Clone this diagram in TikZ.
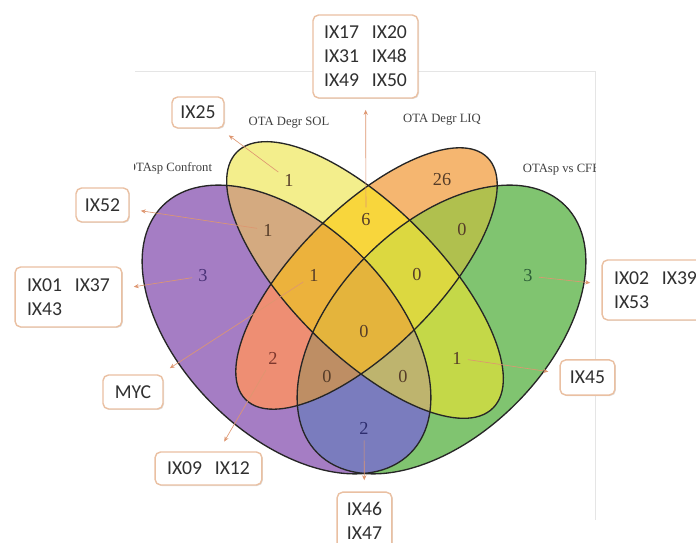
\documentclass[tikz,border=0pt]{standalone}
\usepackage{fontspec}
\setmainfont{Liberation Serif}
\newfontfamily\idfont{Carlito}
\usetikzlibrary{arrows.meta,shadows}

\definecolor{cP}{RGB}{165,125,196}
\definecolor{cY}{RGB}{243,238,140}
\definecolor{cO}{RGB}{245,182,112}
\definecolor{cG}{RGB}{128,196,112}
\definecolor{cPY}{RGB}{212,170,128}
\definecolor{cPO}{RGB}{238,142,115}
\definecolor{cPG}{RGB}{122,124,190}
\definecolor{cYO}{RGB}{248,214,60}
\definecolor{cYG}{RGB}{196,216,72}
\definecolor{cOG}{RGB}{176,192,78}
\definecolor{cPYO}{RGB}{236,178,60}
\definecolor{cPYG}{RGB}{190,180,110}
\definecolor{cPOG}{RGB}{190,142,100}
\definecolor{cYOG}{RGB}{220,216,64}
\definecolor{cPYOG}{RGB}{228,180,60}
\definecolor{numtext}{RGB}{85,60,40}
\definecolor{numP}{RGB}{75,50,120}
\definecolor{numG}{RGB}{45,95,55}
\definecolor{numPG}{RGB}{45,45,110}
\definecolor{numPO}{RGB}{125,55,45}
\definecolor{boxline}{RGB}{234,192,162}
\definecolor{idtext}{RGB}{48,48,48}
\definecolor{pointer}{RGB}{222,150,112}

% the four sets (pixel grid, y upwards)
\newcommand{\setP}{[rotate around={-45:(286.5,213.5)}] (286.5,213.5) ellipse (4.375cm and 2.625cm)}
\newcommand{\setG}{[rotate around={45:(441.5,213.5)}] (441.5,213.5) ellipse (4.375cm and 2.625cm)}
\newcommand{\setY}{[rotate around={-45:(365,263)}] (365,263) ellipse (4.525cm and 1.85cm)}
\newcommand{\setO}{[rotate around={45:(366.5,264.5)}] (366.5,264.5) ellipse (4.275cm and 1.75cm)}
\newcommand{\gap}{\hspace{9pt}}

\tikzset{
  rim/.style={draw=black!85, line width=0.95pt},
  setlabel/.style={font=\fontsize{9}{11}\selectfont, text=black!75},
  tally/.style={font=\fontsize{13}{15}\selectfont, text=numtext},
  idbox/.style={draw=boxline, line width=1pt, rounded corners=4pt, fill=white,
    font=\idfont\fontsize{14}{17}\selectfont, text=idtext, align=left, inner sep=0pt,
    drop shadow={shadow xshift=0.7pt, shadow yshift=-0.7pt, fill=black, opacity=0.12}},
  leader/.style={draw=pointer, line width=0.45pt, -{Stealth[length=3.5pt,width=3pt]},
    shorten >=8pt, shorten <=1pt},
  frameline/.style={draw=black!10, line width=0.4pt}
}

\begin{document}
\begin{tikzpicture}[x=0.025cm,y=0.025cm]
  \useasboundingbox (0,0) rectangle (696,543);
  \clip (0,0) rectangle (696,543);
  \fill[white] (0,0) rectangle (696,543);
  \draw[frameline] (135,472) -- (595,472) -- (595,23);

  % one set
  \fill[cP] \setP;
  \fill[cG] \setG;
  \fill[cY] \setY;
  \fill[cO] \setO;
  % two sets
  \begin{scope} \clip \setP; \fill[cPY] \setY; \end{scope}
  \begin{scope} \clip \setP; \fill[cPO] \setO; \end{scope}
  \begin{scope} \clip \setP; \fill[cPG] \setG; \end{scope}
  \begin{scope} \clip \setY; \fill[cYO] \setO; \end{scope}
  \begin{scope} \clip \setY; \fill[cYG] \setG; \end{scope}
  \begin{scope} \clip \setO; \fill[cOG] \setG; \end{scope}
  % three sets
  \begin{scope} \clip \setP; \clip \setY; \fill[cPYO] \setO; \end{scope}
  \begin{scope} \clip \setP; \clip \setY; \fill[cPYG] \setG; \end{scope}
  \begin{scope} \clip \setP; \clip \setO; \fill[cPOG] \setG; \end{scope}
  \begin{scope} \clip \setY; \clip \setO; \fill[cYOG] \setG; \end{scope}
  % all four
  \begin{scope} \clip \setP; \clip \setY; \clip \setO; \fill[cPYOG] \setG; \end{scope}

  \draw[rim] \setP;
  \draw[rim] \setG;
  \draw[rim] \setY;
  \draw[rim] \setO;

  % set names, cut at the plot frame
  \begin{scope}
    \clip (134.5,0) rectangle (595,543);
    \node[setlabel] (lblY) at (289,420) {OTA Degr SOL};
    \node[setlabel] (lblO) at (442,423) {OTA Degr LIQ};
    \node[setlabel, anchor=east] (lblP) at (217,375) {OTAsp Confront};
    \node[setlabel, anchor=west] (lblG) at (518,373) {OTAsp vs CFE};
  \end{scope}

  % counts
  \node[tally] (nY) at (289,363) {1};
  \node[tally] (nO) at (442,363) {26};
  \node[tally] (nPY) at (268,313) {1};
  \node[tally] (nYO) at (366,323) {6};
  \node[tally] (nOG) at (462,313) {0};
  \node[tally, text=numP] (nP) at (203,267) {3};
  \node[tally] (nPYO) at (314,268) {1};
  \node[tally] (nYOG) at (417,268) {0};
  \node[tally, text=numG] (nG) at (528,267) {3};
  \node[tally] (nPYOG) at (364,211) {0};
  \node[tally, text=numPO] (nPO) at (273,185) {2};
  \node[tally] (nYG) at (457,185) {1};
  \node[tally] (nPOG) at (327,166) {0};
  \node[tally] (nPYG) at (403,166) {0};
  \node[tally, text=numPG] (nPG) at (364,115) {2};

  % member boxes
  \node[idbox, minimum width=74.7pt, minimum height=59pt] (boxYO) at (365.5,486.5) {IX17\gap IX20\\IX31\gap IX48\\IX49\gap IX50};
  \node[idbox, minimum width=37pt, minimum height=22pt] (boxY) at (198,430.5) {IX25};
  \node[idbox, minimum width=37.7pt, minimum height=24.2pt] (boxPY) at (102.5,338) {IX52};
  \node[idbox, minimum width=76pt, minimum height=42.7pt] (boxP) at (68.5,246) {IX01\gap IX37\\IX43};
  \node[idbox, minimum width=42.7pt, minimum height=24.2pt] (boxPYO) at (133,151) {MYC};
  \node[idbox, minimum width=76pt, minimum height=23.5pt] (boxPO) at (208.5,74.5) {IX09\gap IX12};
  \node[idbox, minimum width=39pt, minimum height=41pt] (boxPG) at (364.5,22) {IX46\\IX47};
  \node[idbox, minimum width=76pt, minimum height=42.7pt] (boxG) at (655.5,253) {IX02\gap IX39\\IX53};
  \node[idbox, minimum width=39pt, minimum height=25pt] (boxYG) at (587.5,165.5) {IX45};

  \draw[leader] (nYO) -- (boxYO);
  \draw[leader] (nY) -- (boxY);
  \draw[leader] (nPY) -- (boxPY);
  \draw[leader] (nP) -- (boxP);
  \draw[leader] (nPYO) -- (boxPYO);
  \draw[leader] (nPO) -- (boxPO);
  \draw[leader] (nPG) -- (boxPG);
  \draw[leader] (nG) -- (boxG);
  \draw[leader] (nYG) -- (boxYG);
\end{tikzpicture}
\end{document}
